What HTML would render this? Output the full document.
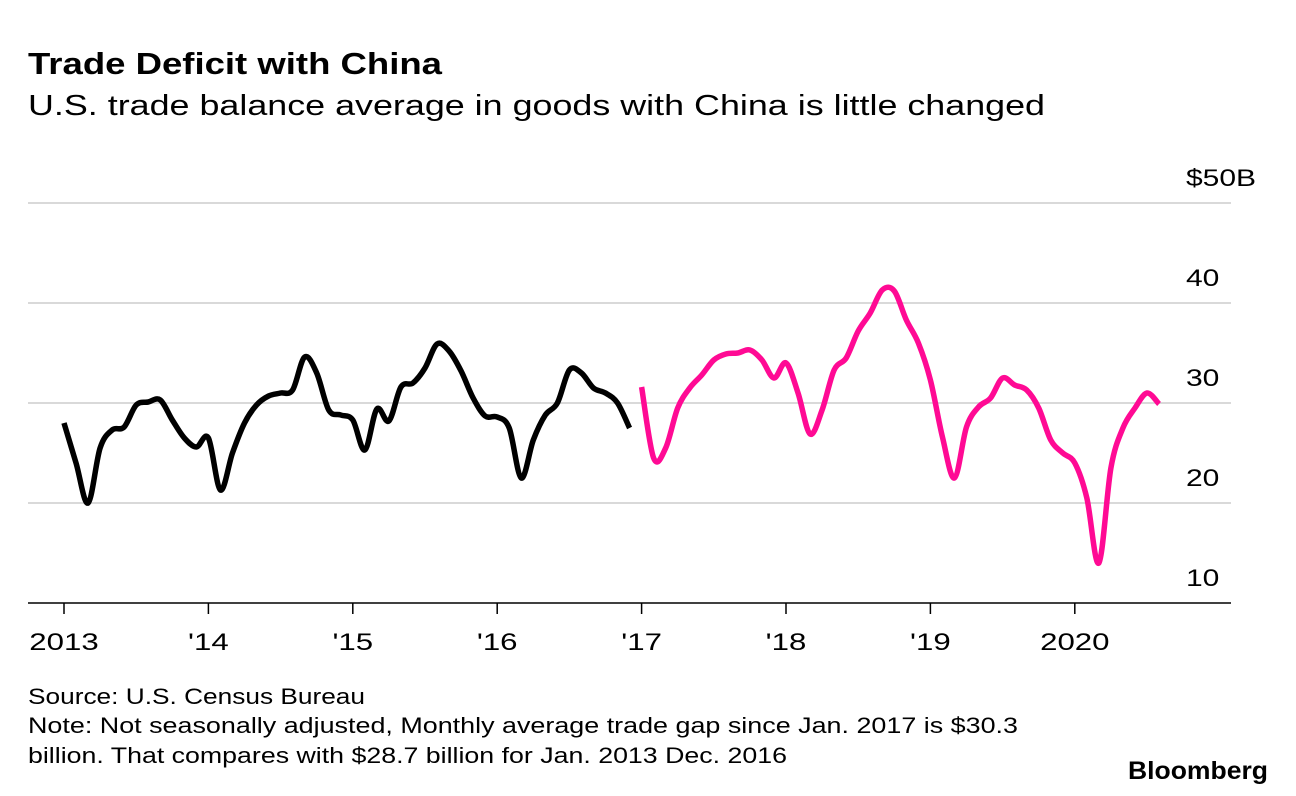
<!DOCTYPE html>
<html><head><meta charset="utf-8">
<style>
body{margin:0;background:#fff;font-family:"Liberation Sans",Arial,sans-serif;}
#wrap{position:relative;width:1296px;height:796px;overflow:hidden;}
</style></head>
<body>
<div id="wrap">
<svg id="chart" width="1296" height="796" font-family="Liberation Sans, Arial, sans-serif">
<text x="28" y="74" font-size="31" font-weight="bold" fill="#000" textLength="414" lengthAdjust="spacingAndGlyphs">Trade Deficit with China</text>
<text x="28" y="115" font-size="29" fill="#000" textLength="1017" lengthAdjust="spacingAndGlyphs">U.S. trade balance average in goods with China is little changed</text>
<g id="grid"></g>
<g id="series"></g>
<text x="28" y="704" font-size="22" fill="#000" textLength="337" lengthAdjust="spacingAndGlyphs">Source: U.S. Census Bureau</text>
<text x="28" y="733" font-size="22" fill="#000" textLength="990" lengthAdjust="spacingAndGlyphs">Note: Not seasonally adjusted, Monthly average trade gap since Jan. 2017 is $30.3</text>
<text x="28" y="763" font-size="22" fill="#000" textLength="759" lengthAdjust="spacingAndGlyphs">billion. That compares with $28.7 billion for Jan. 2013 Dec. 2016</text>
<text x="1128" y="779" font-size="25" font-weight="bold" fill="#000" textLength="140" lengthAdjust="spacingAndGlyphs">Bloomberg</text>
</svg>
</div>
<script>
const yTicks = [10, 20, 30, 40, 50];
const yTickLabels = ["10", "20", "30", "40", "$50B"];
const xTickLabels = ["2013", "'14", "'15", "'16", "'17", "'18", "'19", "2020"];
const before2017 = [28.0,24,20,25.5,27.3,27.6,29.8,30.1,30.3,28.3,26.5,25.6,
  26.5,21.3,25,28,29.8,30.7,31.0,31.3,34.6,33,29.3,28.8,
  28.3,25.3,29.4,28.2,31.6,32.0,33.5,35.9,35.2,33.2,30.5,28.7,
  28.6,27.5,22.5,26.3,28.8,30.0,33.3,33.0,31.5,31,30,27.5];
const since2017 = [31.6,24.5,25.5,29.5,31.5,32.8,34.3,34.9,35.0,35.3,34.3,32.5,
  34.0,31,26.9,29.3,33.3,34.5,37.2,39.0,41.3,41.2,38.3,36.0,
  32.3,26.6,22.5,27.6,29.6,30.5,32.5,31.8,31.3,29.5,26.3,25.0,
  24.0,20.5,14,23.5,27.5,29.5,31.0,29.9];

const svg = document.getElementById('chart');
const NS = 'http://www.w3.org/2000/svg';
const x0 = 64, pxPerYear = 144.4;
const xScale = m => x0 + m * pxPerYear / 12;
const yScale = v => 603 - (v - 10) * 10;

function widen(el, f) {
  const w = el.getComputedTextLength();
  el.setAttribute('textLength', w * f);
  el.setAttribute('lengthAdjust', 'spacingAndGlyphs');
}

const grid = document.getElementById('grid');
yTicks.forEach((t, i) => {
  if (t > 10) {
    const l = document.createElementNS(NS, 'line');
    l.setAttribute('x1', 28); l.setAttribute('x2', 1231);
    l.setAttribute('y1', yScale(t)); l.setAttribute('y2', yScale(t));
    l.setAttribute('stroke', '#d9d9d9'); l.setAttribute('stroke-width', 2);
    
    
    grid.appendChild(l);
  }
  const tx = document.createElementNS(NS, 'text');
  tx.setAttribute('x', 1186); tx.setAttribute('y', yScale(t) - 17);
  tx.setAttribute('font-size', 24);
  tx.textContent = yTickLabels[i];
  
  
  grid.appendChild(tx);
  widen(tx, 1.25);
});
const ax = document.createElementNS(NS, 'line');
ax.setAttribute('x1', 28); ax.setAttribute('x2', 1231);
ax.setAttribute('y1', 603); ax.setAttribute('y2', 603);
ax.setAttribute('stroke', '#000'); ax.setAttribute('stroke-width', 1.5);


grid.appendChild(ax);
xTickLabels.forEach((lab, i) => {
  const x = xScale(i * 12);
  const t = document.createElementNS(NS, 'line');
  t.setAttribute('x1', x); t.setAttribute('x2', x);
  t.setAttribute('y1', 603); t.setAttribute('y2', 614);
  t.setAttribute('stroke', '#000'); t.setAttribute('stroke-width', 1.5);
  
  
  grid.appendChild(t);
  const tx = document.createElementNS(NS, 'text');
  tx.setAttribute('x', x); tx.setAttribute('y', 650);
  tx.setAttribute('text-anchor', 'middle'); tx.setAttribute('font-size', 24);
  tx.textContent = lab;
  
  
  grid.appendChild(tx);
  widen(tx, 1.3);
});

function smoothPath(pts) {
  let d = 'M' + pts[0][0] + ',' + pts[0][1];
  for (let i = 0; i < pts.length - 1; i++) {
    const p0 = pts[i - 1] || pts[i], p1 = pts[i], p2 = pts[i + 1], p3 = pts[i + 2] || p2;
    const c1x = p1[0] + (p2[0] - p0[0]) / 6, c1y = p1[1] + (p2[1] - p0[1]) / 6;
    const c2x = p2[0] - (p3[0] - p1[0]) / 6, c2y = p2[1] - (p3[1] - p1[1]) / 6;
    d += ' C' + c1x + ',' + c1y + ' ' + c2x + ',' + c2y + ' ' + p2[0] + ',' + p2[1];
  }
  return d;
}
const sg = document.getElementById('series');
const p1 = document.createElementNS(NS, 'path');
p1.setAttribute('d', smoothPath(before2017.map((v, i) => [xScale(i), yScale(v)])));
p1.setAttribute('fill', 'none'); p1.setAttribute('stroke', '#000');
p1.setAttribute('stroke-width', 5.5); p1.setAttribute('stroke-linejoin', 'round');


sg.appendChild(p1);
const p2 = document.createElementNS(NS, 'path');
p2.setAttribute('d', smoothPath(since2017.map((v, i) => [xScale(48 + i), yScale(v)])));
p2.setAttribute('fill', 'none'); p2.setAttribute('stroke', '#ff0a94');
p2.setAttribute('stroke-width', 5.5); p2.setAttribute('stroke-linejoin', 'round');


sg.appendChild(p2);
</script>
</body></html>
